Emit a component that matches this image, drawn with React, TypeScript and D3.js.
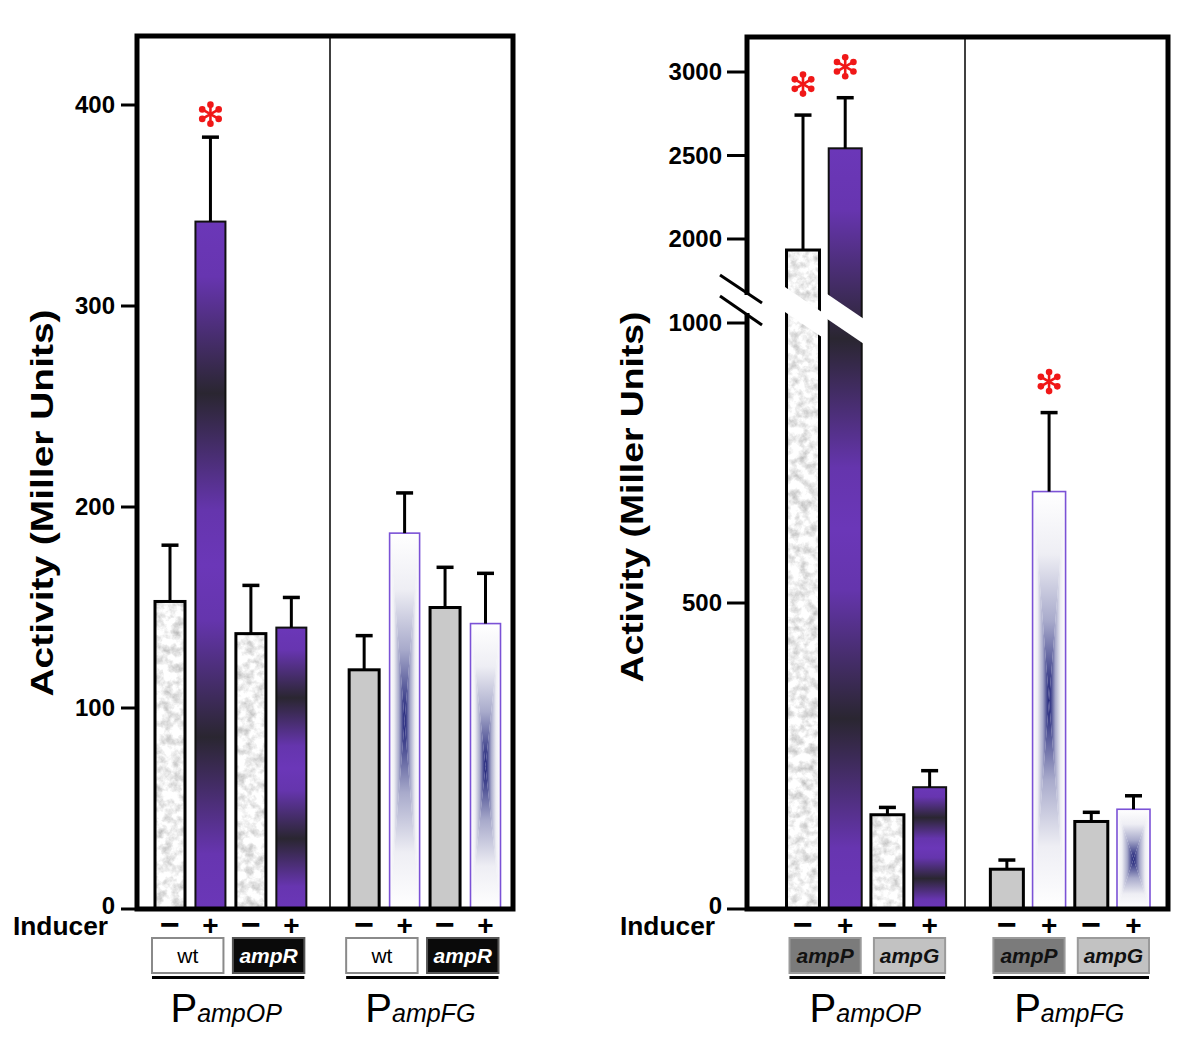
import React from "react";
import * as d3 from "d3";

// ---------- data ----------
const inducer = ["−", "+", "−", "+", "−", "+", "−", "+"];

const leftPromoters = ["ampOP", "ampFG"];
const leftStrains = ["wt", "ampR", "wt", "ampR"];
const leftValues = [153, 342, 137, 140, 119, 187, 150, 142];
const leftSE = [28, 42, 24, 15, 17, 20, 20, 25];
const leftSig = [false, true, false, false, false, false, false, false];
const leftTicks = [0, 100, 200, 300, 400];

const rightPromoters = ["ampOP", "ampFG"];
const rightStrains = ["ampP", "ampG", "ampP", "ampG"];
const rightValues = [1934, 2543, 154, 199, 65, 699, 143, 163];
const rightSE = [808, 303, 12, 27, 15, 141, 15, 22];
const rightSig = [true, true, false, false, false, true, false, false];
const rightTicksLow = [0, 500, 1000];
const rightTicksHigh = [2000, 2500, 3000];

const yAxisTitle = "Activity (Miller Units)";
const inducerLabel = "Inducer";

const FONT = "'Liberation Sans', Arial, Helvetica, sans-serif";

// ---------- scales ----------
const yL = d3.scaleLinear().domain([0, 400]).range([909, 105]);
const yRlow = d3.scaleLinear().domain([0, 500, 1000]).range([909, 603, 323]);
const yRhigh = d3.scaleLinear().domain([2000, 3000]).range([239, 72]);
const yR = (v: number) => (v <= 1000 ? yRlow(v) : yRhigh(v));

const slot = (i: number, gap: number) => i + (i >= 4 ? gap : 0);
const xL = d3.scaleLinear().domain([0, 7.8]).range([170, 485.5]);
const xR = d3.scaleLinear().domain([0, 7.83]).range([803, 1133.5]);

type Kind = "texture" | "purple" | "grey" | "navy";
const kindOf = (i: number): Kind => {
  const p = i < 4 ? 0 : 1;
  const induced = i % 2 === 1;
  if (p === 0) return induced ? "purple" : "texture";
  return induced ? "navy" : "grey";
};

function Bar({ cx, w, yTop, yBase, kind }: { cx: number; w: number; yTop: number; yBase: number; kind: Kind }) {
  const x0 = cx - w / 2;
  const x1 = cx + w / 2;
  const h = yBase - yTop;
  if (kind === "texture") {
    return (
      <g>
        <rect x={x0} y={yTop} width={w} height={h} fill="#eeeeee" filter="url(#noise)" />
        <rect x={x0} y={yTop} width={w} height={h} fill="none" stroke="#000" strokeWidth={3} />
      </g>
    );
  }
  if (kind === "purple") {
    return <rect x={x0} y={yTop} width={w} height={h} fill="url(#purpleGrad)" stroke="#111" strokeWidth={2} />;
  }
  if (kind === "grey") {
    return <rect x={x0} y={yTop} width={w} height={h} fill="#c9c9c9" stroke="#000" strokeWidth={3} />;
  }
  const yc = (yTop + yBase) / 2;
  const pts = (a: number[][]) => a.map((p) => p.join(",")).join(" ");
  return (
    <g>
      <polygon points={pts([[x0, yTop], [x1, yTop], [cx, yc]])} fill="url(#navTop)" />
      <polygon points={pts([[x0, yBase], [x1, yBase], [cx, yc]])} fill="url(#navBot)" />
      <polygon points={pts([[x0, yTop], [x0, yBase], [cx, yc]])} fill="url(#navLeft)" />
      <polygon points={pts([[x1, yTop], [x1, yBase], [cx, yc]])} fill="url(#navRight)" />
      <rect x={x0} y={yTop} width={w} height={h} fill="none" stroke="#7b52d6" strokeWidth={1.6} />
    </g>
  );
}

function ErrorBar({ cx, yTop, yErr }: { cx: number; yTop: number; yErr: number }) {
  return (
    <g stroke="#000">
      <line x1={cx} x2={cx} y1={yTop} y2={yErr} strokeWidth={3} />
      <line x1={cx - 8.5} x2={cx + 8.5} y1={yErr} y2={yErr} strokeWidth={3.5} />
    </g>
  );
}

function Asterisk({ cx, cy }: { cx: number; cy: number }) {
  const angles = [90, 30, 150, 270, 210, 330];
  return (
    <g fill="#f01818" stroke="#f01818">
      {angles.map((a) => {
        const r = (a * Math.PI) / 180;
        const ex = cx + Math.cos(r) * 9.5;
        const ey = cy - Math.sin(r) * 9.5;
        return (
          <g key={a}>
            <line x1={cx} y1={cy} x2={ex} y2={ey} strokeWidth={2.6} strokeLinecap="round" />
            <circle cx={ex} cy={ey} r={3.3} stroke="none" />
          </g>
        );
      })}
    </g>
  );
}

function PLabel({ cx, sub }: { cx: number; sub: string }) {
  return (
    <text x={cx} y={1022} textAnchor="middle" fontFamily={FONT} fill="#000">
      <tspan fontSize={40}>P</tspan>
      <tspan fontSize={25} fontStyle="italic">{sub}</tspan>
    </text>
  );
}

function Sign({ x, s }: { x: number; s: string }) {
  const minus = s === "−";
  return (
    <text x={x} y={minus ? 936 : 935} textAnchor="middle" fontSize={minus ? 34 : 28} fontWeight="bold">
      {s}
    </text>
  );
}

export default function App() {
  const wL = 30;
  const wR = 33;

  const leftX = leftValues.map((_, i) => xL(slot(i, 0.8)));
  const rightX = rightValues.map((_, i) => xR(slot(i, 0.83)));

  const leftBoxes = [0, 2, 4, 6].map((i, k) => ({
    x0: leftX[i] - wL / 2 - 3,
    x1: leftX[i + 1] + wL / 2 - 2,
    label: leftStrains[k],
  }));
  const rightBoxes = [0, 2, 4, 6].map((i, k) => ({
    x0: rightX[i] - wR / 2 + 3,
    x1: rightX[i + 1] + wR / 2 - 1,
    label: rightStrains[k],
  }));

  return (
    <svg
      width={1200}
      height={1047}
      style={{ position: "absolute", left: 0, top: 0, background: "#fff" }}
      fontFamily={FONT}
    >
      <defs>
        <filter id="noise" x="0" y="0" width="1" height="1" colorInterpolationFilters="sRGB">
          <feTurbulence type="fractalNoise" baseFrequency="0.11" numOctaves={4} seed={7} result="t" />
          <feColorMatrix
            in="t"
            type="matrix"
            values="0.5 0 0 0 0.69  0.5 0 0 0 0.69  0.5 0 0 0 0.69  0 0 0 0 1"
            result="g"
          />
          <feComposite in="g" in2="SourceGraphic" operator="in" />
        </filter>
        <linearGradient id="purpleGrad" x1="0" y1="0" x2="0" y2="1">
          <stop offset="0" stopColor="#6b37b8" />
          <stop offset="0.08" stopColor="#6735b0" />
          <stop offset="0.25" stopColor="#2a2631" />
          <stop offset="0.42" stopColor="#6535ad" />
          <stop offset="0.5" stopColor="#6b37b8" />
          <stop offset="0.58" stopColor="#6535ad" />
          <stop offset="0.75" stopColor="#2a2631" />
          <stop offset="0.92" stopColor="#6735b0" />
          <stop offset="1" stopColor="#6b37b8" />
        </linearGradient>
        {[
          ["navTop", "0", "0", "0", "1"],
          ["navBot", "0", "1", "0", "0"],
          ["navLeft", "0", "0", "1", "0"],
          ["navRight", "1", "0", "0", "0"],
        ].map(([id, x1, y1, x2, y2]) => (
          <linearGradient key={id} id={id} x1={x1} y1={y1} x2={x2} y2={y2}>
            <stop offset="0" stopColor="#ffffff" />
            <stop offset="0.3" stopColor="#eeeef4" />
            <stop offset="0.62" stopColor="#a8aacb" />
            <stop offset="0.88" stopColor="#43468e" />
            <stop offset="1" stopColor="#20237a" />
          </linearGradient>
        ))}
      </defs>

      {/* ================= LEFT PANEL ================= */}
      {leftValues.map((v, i) => (
        <Bar key={"lb" + i} cx={leftX[i]} w={wL} yTop={yL(v)} yBase={yL(0)} kind={kindOf(i)} />
      ))}
      {leftValues.map((v, i) => (
        <ErrorBar key={"le" + i} cx={leftX[i]} yTop={yL(v)} yErr={yL(v + leftSE[i])} />
      ))}
      {leftValues.map((v, i) =>
        leftSig[i] ? <Asterisk key={"ls" + i} cx={leftX[i]} cy={yL(v + leftSE[i]) - 23} /> : null
      )}
      <line x1={330} x2={330} y1={36} y2={909} stroke="#000" strokeWidth={1.5} />
      <rect x={137} y={36} width={376} height={873} fill="none" stroke="#000" strokeWidth={5} />
      {leftTicks.map((t) => (
        <g key={"lt" + t}>
          <line x1={121} x2={137} y1={yL(t)} y2={yL(t)} stroke="#000" strokeWidth={3} />
          <text
            x={115}
            y={yL(t) + (t === 0 ? -3 : 0)}
            dy="0.35em"
            textAnchor="end"
            fontSize={24}
            fontWeight="bold"
          >
            {t}
          </text>
        </g>
      ))}
      <text
        transform={`translate(53,${503}) rotate(-90)`}
        textAnchor="middle"
        fontSize={32}
        fontWeight="bold"
        textLength={387}
        lengthAdjust="spacingAndGlyphs"
      >
        {yAxisTitle}
      </text>
      <text x={13} y={935} fontSize={25} fontWeight="bold" textLength={95} lengthAdjust="spacingAndGlyphs">
        {inducerLabel}
      </text>
      {inducer.map((s, i) => (
        <Sign key={"li" + i} x={leftX[i]} s={s} />
      ))}
      {leftBoxes.map((b, k) => {
        const mutant = k % 2 === 1;
        return (
          <g key={"lbx" + k}>
            <rect
              x={b.x0}
              y={938}
              width={b.x1 - b.x0}
              height={35}
              fill={mutant ? "#0a0a0a" : "#ffffff"}
              stroke={mutant ? "#555" : "#8a8a8a"}
              strokeWidth={2}
            />
            <text
              x={(b.x0 + b.x1) / 2}
              y={963}
              textAnchor="middle"
              fontSize={21}
              fontWeight={mutant ? "bold" : "normal"}
              fontStyle={mutant ? "italic" : "normal"}
              fill={mutant ? "#fff" : "#000"}
            >
              {b.label}
            </text>
          </g>
        );
      })}
      {[0, 1].map((g) => {
        const x0 = leftBoxes[g * 2].x0;
        const x1 = leftBoxes[g * 2 + 1].x1;
        return (
          <g key={"lg" + g}>
            <line x1={x0} x2={x1} y1={977.5} y2={977.5} stroke="#000" strokeWidth={3} />
            <PLabel cx={(x0 + x1) / 2 - 2} sub={leftPromoters[g]} />
          </g>
        );
      })}

      {/* ================= RIGHT PANEL ================= */}
      {rightValues.map((v, i) => (
        <Bar key={"rb" + i} cx={rightX[i]} w={wR} yTop={yR(v)} yBase={yRlow(0)} kind={kindOf(i)} />
      ))}
      {rightValues.map((v, i) => {
        if (v <= 1000) return null;
        const xa = rightX[i] - wR / 2 - 3;
        const xb = rightX[i] + wR / 2 + 3;
        const yA = yRlow(1000) - 37 + 7 * i;
        const slope = 0.68;
        const yB = yA + slope * (xb - xa);
        const gap = 25;
        return (
          <polygon
            key={"brk" + i}
            points={`${xa},${yA} ${xb},${yB} ${xb},${yB + gap} ${xa},${yA + gap}`}
            fill="#fff"
          />
        );
      })}
      {rightValues.map((v, i) => (
        <ErrorBar key={"re" + i} cx={rightX[i]} yTop={yR(v)} yErr={yR(v + rightSE[i])} />
      ))}
      {rightValues.map((v, i) =>
        rightSig[i] ? <Asterisk key={"rs" + i} cx={rightX[i]} cy={yR(v + rightSE[i]) - 31} /> : null
      )}
      <line x1={965} x2={965} y1={37} y2={909} stroke="#000" strokeWidth={1.5} />
      <rect x={747} y={37} width={421} height={872} fill="none" stroke="#000" strokeWidth={5} />
      {/* axis break */}
      <rect x={743} y={295} width={8} height={18} fill="#fff" />
      <line x1={720} y1={275} x2={762} y2={303} stroke="#000" strokeWidth={3} />
      <line x1={720} y1={296} x2={762} y2={325} stroke="#000" strokeWidth={3} />
      {[...rightTicksLow.map((t) => ({ t, y: yRlow(t) })), ...rightTicksHigh.map((t) => ({ t, y: yRhigh(t) }))].map(
        ({ t, y }) => (
          <g key={"rt" + t}>
            <line x1={727} x2={747} y1={y} y2={y} stroke="#000" strokeWidth={3} />
            <text
              x={722}
              y={y + (t === 0 ? -3 : 0)}
              dy="0.35em"
              textAnchor="end"
              fontSize={24}
              fontWeight="bold"
            >
              {t}
            </text>
          </g>
        )
      )}
      <text
        transform={`translate(643,${497}) rotate(-90)`}
        textAnchor="middle"
        fontSize={32}
        fontWeight="bold"
        textLength={371}
        lengthAdjust="spacingAndGlyphs"
      >
        {yAxisTitle}
      </text>
      <text x={620} y={935} fontSize={25} fontWeight="bold" textLength={95} lengthAdjust="spacingAndGlyphs">
        {inducerLabel}
      </text>
      {inducer.map((s, i) => (
        <Sign key={"ri" + i} x={rightX[i]} s={s} />
      ))}
      {rightBoxes.map((b, k) => {
        const isP = k % 2 === 0;
        return (
          <g key={"rbx" + k}>
            <rect
              x={b.x0}
              y={938}
              width={b.x1 - b.x0}
              height={35}
              fill={isP ? "#7b7b7b" : "#c2c2c2"}
              stroke="#9a9a9a"
              strokeWidth={2}
            />
            <text
              x={(b.x0 + b.x1) / 2}
              y={963}
              textAnchor="middle"
              fontSize={21}
              fontWeight="bold"
              fontStyle="italic"
              fill="#111"
            >
              {b.label}
            </text>
          </g>
        );
      })}
      {[0, 1].map((g) => {
        const x0 = rightBoxes[g * 2].x0;
        const x1 = rightBoxes[g * 2 + 1].x1;
        return (
          <g key={"rg" + g}>
            <line x1={x0} x2={x1} y1={977.5} y2={977.5} stroke="#000" strokeWidth={3} />
            <PLabel cx={(x0 + x1) / 2 - 2} sub={rightPromoters[g]} />
          </g>
        );
      })}
    </svg>
  );
}
